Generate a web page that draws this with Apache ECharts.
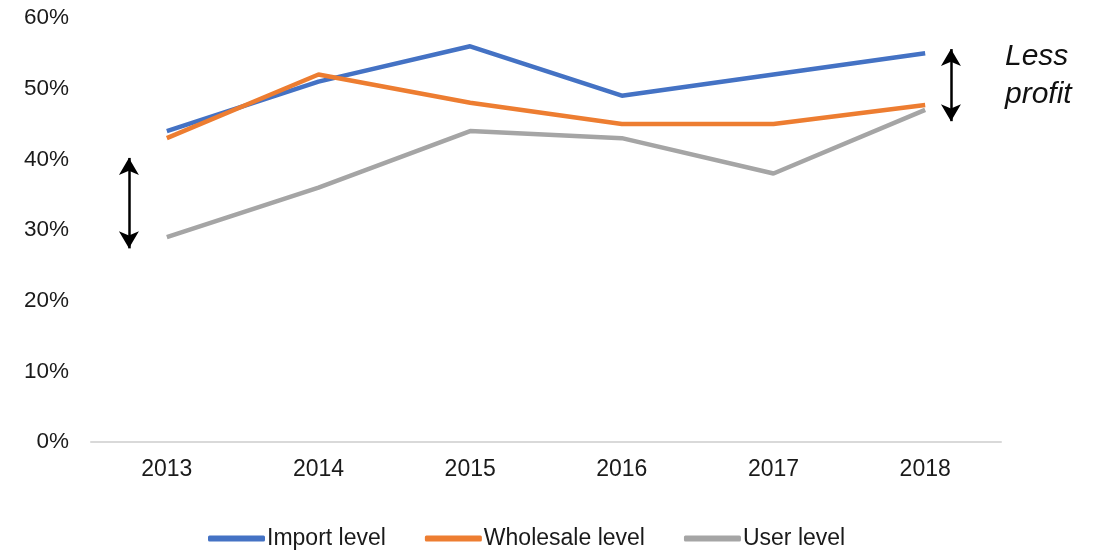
<!DOCTYPE html>
<html>
<head>
<meta charset="utf-8">
<script src="https://cdn.jsdelivr.net/npm/echarts@6/dist/echarts.min.js"></script>
<style>
  html, body { margin: 0; padding: 0; background: #fff; }
  #chart { width: 1104px; height: 550px; }
</style>
</head>
<body>
<div id="chart"></div>
<script>
// Margin shares by level, in percent
const years = ['2013', '2014', '2015', '2016', '2017', '2018'];
const importLevel = [44, 51, 56, 49, 52, 55];
const wholesaleLevel = [43, 52, 48, 45, 45, 47.7];
const userLevel = [29, 36, 44, 43, 38, 47];
const yTicks = [0, 10, 20, 30, 40, 50, 60];

// Double-headed arrows: [position along the year axis, from %, to %]
const gapArrows = [
  [-0.25, 40.2, 27.4],
  [5.17, 55.6, 45.4]
];

const font = "'Liberation Sans', Arial, sans-serif";
const chart = echarts.init(document.getElementById('chart'));

chart.setOption({
  animation: false,
  grid: { left: 91, right: 103, top: 18, bottom: 108 },
  xAxis: [
    {
      type: 'category',
      data: years,
      boundaryGap: true,
      axisLine: { show: true, lineStyle: { color: '#d9d9d9', width: 2 } },
      axisTick: { show: false },
      axisLabel: { color: '#1a1a1a', fontSize: 23, fontFamily: font, margin: 16 }
    },
    {
      type: 'value',
      min: -0.5,
      max: 5.5,
      show: false
    }
  ],
  yAxis: {
    type: 'value',
    min: yTicks[0],
    max: yTicks[yTicks.length - 1],
    interval: 10,
    axisLine: { show: false },
    axisTick: { show: false },
    splitLine: { show: false },
    axisLabel: {
      color: '#1a1a1a', fontSize: 22.5, fontFamily: font, margin: 22,
      formatter: v => v + '%'
    }
  },
  legend: {
    left: 203,
    top: 522,
    itemWidth: 57,
    itemHeight: 6,
    itemGap: 39,
    icon: 'roundRect',
    textStyle: { color: '#1a1a1a', fontSize: 23, fontFamily: font, padding: [0, 0, 0, -3] },
    data: ['Import level', 'Wholesale level', 'User level']
  },
  series: [
    {
      name: 'Import level', type: 'line', data: importLevel,
      symbol: 'none', lineStyle: { width: 4.5, color: '#4472C4' }, itemStyle: { color: '#4472C4' }
    },
    {
      name: 'Wholesale level', type: 'line', data: wholesaleLevel,
      symbol: 'none', lineStyle: { width: 4.5, color: '#ED7D31' }, itemStyle: { color: '#ED7D31' }
    },
    {
      name: 'User level', type: 'line', data: userLevel,
      symbol: 'none', lineStyle: { width: 4.5, color: '#A5A5A5' }, itemStyle: { color: '#A5A5A5' }
    },
    {
      name: 'gaps', type: 'line', xAxisIndex: 1, data: [],
      silent: true,
      markLine: {
        silent: true,
        symbol: ['arrow', 'arrow'],
        symbolSize: [15, 17],
        label: { show: false },
        lineStyle: { color: '#000', width: 2.5, type: 'solid' },
        data: gapArrows.map(a => [{ coord: [a[0], a[1]] }, { coord: [a[0], a[2]] }])
      }
    }
  ],
  graphic: [
    {
      type: 'text', left: 1005, top: 38,
      style: { text: 'Less\nprofit', fill: '#111', fontSize: 30, fontStyle: 'italic', fontFamily: font, lineHeight: 38 }
    }
  ]
});
</script>
</body>
</html>
